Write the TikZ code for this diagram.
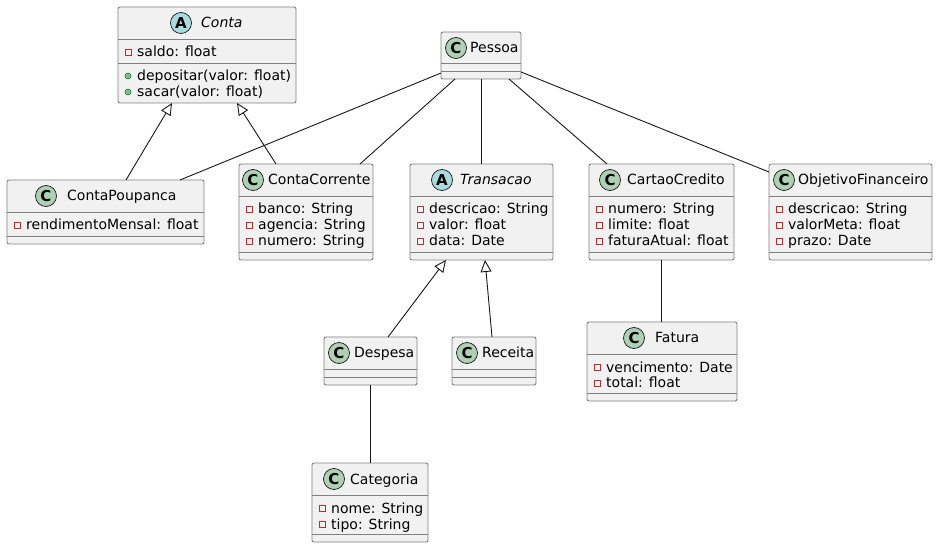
\documentclass[tikz,border=0pt]{standalone}
\usepackage{fontspec}
\setmainfont{DejaVu Sans}
\usetikzlibrary{arrows.meta,calc}
\definecolor{boxfill}{HTML}{F1F1F1}
\definecolor{boxline}{HTML}{808080}
\definecolor{edgecol}{HTML}{181818}
\definecolor{cfill}{HTML}{ADD1B2}
\definecolor{afill}{HTML}{A9DCDF}
\definecolor{privred}{HTML}{C82930}
\definecolor{pubgreen}{HTML}{84BE84}
\definecolor{publine}{HTML}{038048}
\tikzset{
  classbox/.style={draw=boxline, fill=boxfill, line width=0.9pt, rounded corners=2pt, inner sep=0pt, outer sep=0pt, rectangle},
  sepline/.style={draw=boxline, line width=0.9pt},
  kindc/.style={circle, draw=edgecol, line width=0.7pt, fill=cfill, minimum size=21pt, inner sep=0pt, font=\fontsize{15}{15}\selectfont\bfseries},
  kinda/.style={kindc, fill=afill},
  nametext/.style={anchor=base west, inner sep=0pt, font=\fontsize{14}{16}\selectfont, text=black},
  attrtext/.style={anchor=base west, inner sep=0pt, font=\fontsize{14}{16}\selectfont, text=black},
  privicon/.style={draw=privred, line width=0.8pt},
  pubicon/.style={draw=publine, fill=pubgreen, line width=0.6pt},
  assoc/.style={draw=edgecol, line width=0.9pt},
  inherit/.style={assoc, -{Triangle[open, length=12pt, width=11pt]}},
}
% name, left, right, top, sep1, sep2, bottom
\newcommand\umlbox[7]{%
  \node[classbox, anchor=north west, minimum width=#3pt-#2pt, minimum height=#7pt-#4pt] (#1) at (#2,#4) {};
  \draw[sepline] (#2,#5) -- (#3,#5);
  \draw[sepline] (#2,#6) -- (#3,#6);
}
% node name, left, baseline, text
\newcommand\privattr[4]{%
  \draw[privicon] (#2+7,#3-8) rectangle ++(6,6);
  \node[attrtext] (#1) at (#2+19,#3) {#4};
}
\newcommand\pubattr[4]{%
  \draw[pubicon] (#2+10,#3-5) circle (3);
  \node[attrtext] (#1) at (#2+19,#3) {#4};
}
\begin{document}
\begin{tikzpicture}[x=1pt,y=-1pt]
\useasboundingbox[fill=white] (0,0) rectangle (938,548);

% Conta
\umlbox{conta}{118}{296}{7}{39}{63}{103}
\node[kinda] (contak) at (181,23) {A};
\node[nametext, font=\fontsize{14}{16}\selectfont\itshape] (contan) at (201,28) {Conta};
\privattr{contaa1}{118}{57}{saldo: float}
\pubattr{contam1}{118}{81}{depositar(valor: float)}
\pubattr{contam2}{118}{97}{sacar(valor: float)}

% ContaPoupanca
\umlbox{cp}{7}{204}{180}{212}{236}{244}
\node[kindc] (cpk) at (46,196) {C};
\node[nametext] (cpn) at (67,201) {ContaPoupanca};
\privattr{cpa1}{7}{230}{rendimentoMensal: float}

% ContaCorrente
\umlbox{cc}{239}{373}{164}{196}{252}{260}
\node[kindc] (cck) at (253,180) {C};
\node[nametext] (ccn) at (268,185) {ContaCorrente};
\privattr{cca1}{239}{214}{banco: String}
\privattr{cca2}{239}{230}{agencia: String}
\privattr{cca3}{239}{246}{numero: String}

% Pessoa
\umlbox{pessoa}{441}{521}{32}{63.5}{71.5}{79}
\node[kindc] (pessoak) at (456,48) {C};
\node[nametext] (pessoan) at (470,53) {Pessoa};

% Transacao
\umlbox{trans}{410}{553}{164}{196}{252}{260}
\node[kinda] (transk) at (442,180) {A};
\node[nametext, font=\fontsize{14}{16}\selectfont\itshape] (transn) at (460,185) {Transacao};
\privattr{transa1}{410}{214}{descricao: String}
\privattr{transa2}{410}{230}{valor: float}
\privattr{transa3}{410}{246}{data: Date}

% CartaoCredito
\umlbox{cartao}{589}{734}{164}{196}{252}{260}
\node[kindc] (cartaok) at (610,180) {C};
\node[nametext] (cartaon) at (627,185) {CartaoCredito};
\privattr{cartaoa1}{589}{214}{numero: String}
\privattr{cartaoa2}{589}{230}{limite: float}
\privattr{cartaoa3}{589}{246}{faturaAtual: float}

% ObjetivoFinanceiro
\umlbox{obj}{769}{932}{164}{196}{252}{260}
\node[kindc] (objk) at (784,180) {C};
\node[nametext] (objn) at (798,185) {ObjetivoFinanceiro};
\privattr{obja1}{769}{214}{descricao: String}
\privattr{obja2}{769}{230}{valorMeta: float}
\privattr{obja3}{769}{246}{prazo: Date}

% Fatura
\umlbox{fatura}{587}{737}{322}{354}{393}{401}
\node[kindc] (faturak) at (634,338) {C};
\node[nametext] (faturan) at (655,343) {Fatura};
\privattr{faturaa1}{587}{372}{vencimento: Date}
\privattr{faturaa2}{587}{388}{total: float}

% Despesa
\umlbox{despesa}{324}{417}{337}{369}{377}{385}
\node[kindc] (despesak) at (339,353) {C};
\node[nametext] (despesan) at (354,358) {Despesa};

% Receita
\umlbox{receita}{452}{536}{337}{369}{377}{385}
\node[kindc] (receitak) at (467,353) {C};
\node[nametext] (receitan) at (482,358) {Receita};

% Categoria
\umlbox{cat}{312}{428}{463}{495}{534}{542}
\node[kindc] (catk) at (334,479) {C};
\node[nametext] (catn) at (350,484) {Categoria};
\privattr{cata1}{312}{513}{nome: String}
\privattr{cata2}{312}{529}{tipo: String}

% connectors
\draw[inherit] ($(cp.north west)+(119,0)$) -- ($(conta.south west)+(54,0)$);
\draw[inherit] ($(cc.north west)+(37,0)$) -- ($(conta.south west)+(119,0)$);
\draw[assoc] ($(pessoa.north west)+(0,41)$) -- ($(cp.north west)+(173,0)$);
\draw[assoc] ($(pessoa.south west)+(14,0)$) -- ($(cc.north west)+(121,0)$);
\draw[assoc] ($(pessoa.south west)+(40,0)$) -- ($(trans.north west)+(71,0)$);
\draw[assoc] ($(pessoa.south west)+(68,0)$) -- ($(cartao.north west)+(18,0)$);
\draw[assoc] ($(pessoa.north east)+(0,40)$) -- ($(obj.north west)+(0,8)$);
\draw[inherit] ($(despesa.north west)+(64,0)$) -- ($(trans.south west)+(36,0)$);
\draw[inherit] ($(receita.north west)+(40,0)$) -- ($(trans.south west)+(75,0)$);
\draw[assoc] ($(cartao.south west)+(72,0)$) -- ($(fatura.north west)+(74,0)$);
\draw[assoc] ($(despesa.south west)+(46,0)$) -- ($(cat.north west)+(58,0)$);
\end{tikzpicture}
\end{document}
